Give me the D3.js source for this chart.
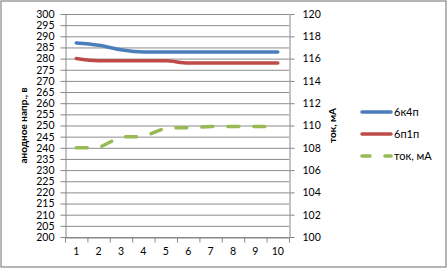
<!DOCTYPE html>
<html>
<head>
<meta charset="utf-8">
<script src="https://d3js.org/d3.v7.min.js"></script>
<style>
  body { margin: 0; background: #fff; }
  text { font-family: Lato, "Open Sans", sans-serif; }
</style>
</head>
<body>
<script>
// chart data
var points = [1, 2, 3, 4, 5, 6, 7, 8, 9, 10];
var tube6k4p = [287, 286, 284, 283, 283, 283, 283, 283, 283, 283];
var tube6p1p = [280, 279, 279, 279, 279, 278, 278, 278, 278, 278];
var current = [108, 108, 109, 109, 109.8, 109.8, 109.9, 109.9, 109.9, 109.9];
var voltTicks = d3.range(200, 301, 5);
var currTicks = d3.range(100, 121, 2);

var W = 448, H = 269;
var plotL = 65, plotR = 289, plotT = 14, plotB = 237;

var svg = d3.select("body").append("svg")
    .attr("width", W)
    .attr("height", H);

svg.append("rect")
    .attr("x", 1).attr("y", 1)
    .attr("width", W - 3).attr("height", H - 3)
    .attr("fill", "#fff")
    .attr("stroke", "#868686")
    .attr("stroke-width", 1.2);

var x = d3.scaleBand().domain(points).range([plotL, plotR]);
var yV = d3.scaleLinear().domain([200, 300]).range([plotB, plotT]);
var yC = d3.scaleLinear().domain([100, 120]).range([plotB, plotT]);

// gridlines
svg.append("g").selectAll("line")
    .data(voltTicks)
    .enter().append("line")
      .attr("x1", plotL).attr("x2", plotR)
      .attr("y1", function(d) { return yV(d) + 0.5; })
      .attr("y2", function(d) { return yV(d) + 0.5; })
      .attr("stroke", "#8c8c8c")
      .attr("stroke-width", 1);

function styleAxis(g) {
  g.selectAll("path, line").attr("stroke", "#868686");
  g.selectAll("text").attr("fill", "#000").style("font-size", "10.5px");
}

svg.append("g")
    .attr("transform", "translate(" + (plotL + 0.5) + ",0)")
    .call(d3.axisLeft(yV).tickValues(voltTicks).tickSize(5).tickSizeOuter(0).tickPadding(6))
    .call(styleAxis);

svg.append("g")
    .attr("transform", "translate(" + (plotR + 0.5) + ",0)")
    .call(d3.axisRight(yC).tickValues(currTicks).tickSize(5).tickSizeOuter(0).tickPadding(8))
    .call(styleAxis);

var xAxis = svg.append("g")
    .attr("transform", "translate(0," + (plotB + 0.5) + ")")
    .call(d3.axisBottom(x).tickSize(0).tickSizeOuter(0).tickPadding(10))
    .call(styleAxis);

xAxis.selectAll(".sep")
    .data(d3.range(points.length + 1))
    .enter().append("line")
      .attr("x1", function(i) { return plotL + i * x.step() + 0.5; })
      .attr("x2", function(i) { return plotL + i * x.step() + 0.5; })
      .attr("y1", 0).attr("y2", 5)
      .attr("stroke", "#868686");

// series
function cx(d, i) { return x(points[i]) + x.bandwidth() / 2; }

var lineV = d3.line().x(cx).y(function(d) { return yV(d); }).curve(d3.curveMonotoneX);
var lineC = d3.line().x(cx).y(function(d) { return yC(d); });

svg.append("path").datum(tube6k4p)
    .attr("d", lineV).attr("fill", "none")
    .attr("stroke", "#4a7ebb").attr("stroke-width", 3.5).attr("stroke-linecap", "round");

svg.append("path").datum(tube6p1p)
    .attr("d", lineV).attr("fill", "none")
    .attr("stroke", "#be4b48").attr("stroke-width", 3.5).attr("stroke-linecap", "round");

svg.append("path").datum(current)
    .attr("d", lineC).attr("fill", "none")
    .attr("stroke", "#98b954").attr("stroke-width", 3.5)
    .attr("stroke-linecap", "round").attr("stroke-dasharray", "11,15");

// axis titles
svg.append("text")
    .attr("transform", "translate(27," + ((plotT + plotB) / 2) + ") rotate(-90)")
    .attr("text-anchor", "middle")
    .style("font-size", "10px").style("font-weight", "bold")
    .text("анодное напр., в");

svg.append("text")
    .attr("transform", "translate(336," + ((plotT + plotB) / 2) + ") rotate(-90)")
    .attr("text-anchor", "middle")
    .style("font-size", "10px").style("font-weight", "bold")
    .text("ток, мА");

// legend
var legend = [
  { name: "6к4п", color: "#4a7ebb", dash: null },
  { name: "6п1п", color: "#be4b48", dash: null },
  { name: "ток, мА", color: "#98b954", dash: "8,15" }
];

var lg = svg.append("g").selectAll("g")
    .data(legend)
    .enter().append("g")
      .attr("transform", function(d, i) { return "translate(362," + (112 + i * 22) + ")"; });

lg.append("line")
    .attr("x1", 0).attr("x2", 29)
    .attr("stroke", function(d) { return d.color; })
    .attr("stroke-width", 3.5)
    .attr("stroke-linecap", "round")
    .attr("stroke-dasharray", function(d) { return d.dash; });

lg.append("text")
    .attr("x", 32).attr("dy", "0.35em")
    .style("font-size", "11px")
    .text(function(d) { return d.name; });
</script>
</body>
</html>
